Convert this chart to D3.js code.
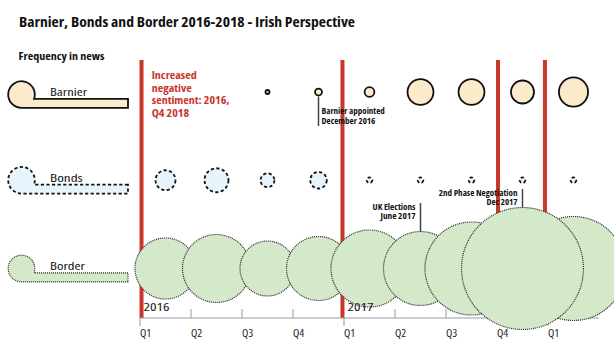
<!DOCTYPE html>
<html>
<head>
<meta charset="utf-8">
<script src="https://cdn.jsdelivr.net/npm/d3@7"></script>
<style>
  html, body { margin: 0; padding: 0; background: #fff; }
  svg { display: block; font-family: "Open Sans", "Lato", sans-serif; font-stretch: semi-condensed; }
</style>
</head>
<body>
<svg id="chart" width="614" height="345"></svg>
<script>
// ---- Data ----
const quarters = ["2016 Q1","2016 Q2","2016 Q3","2016 Q4","2017 Q1","2017 Q2","2017 Q3","2017 Q4","2018 Q1"];
const quarterLabels = ["Q1","Q2","Q3","Q4","Q1","Q2","Q3","Q4","Q1"];
const yearLabels = [{q: "2016 Q1", label: "2016"}, {q: "2017 Q1", label: "2017"}];
const barnier = [0, 0, 1, 3, 6, 42, 42, 33, 53];
const bonds   = [25, 36, 12, 17, 2, 2, 2, 2, 2];
const border  = [233, 289, 189, 256, 371, 342, 541, 930, 676];
const seriesNames = ["Barnier", "Bonds", "Border"];
const redLinePositions = [0.03, 3.97, 7.02, 7.94]; // in quarter units
const sentimentLines = ["Increased", "negative", "sentiment: 2016,", "Q4 2018"];
const annotations = [
  {series: "Barnier", q: "2016 Q4", lines: ["Barnier appointed", "December 2016"]},
  {series: "Border",  q: "2017 Q2", lines: ["UK Elections", "June 2017"]},
  {series: "Border",  q: "2017 Q4", lines: ["2nd Phase Negotiation", "Dec 2017"]}
];

// ---- Setup ----
const svg = d3.select("#chart");
const RED = "#c8362c";
const styles = {
  Barnier: {fill: "#fcebcb", stroke: "#111", width: 1.8, dash: null},
  Bonds:   {fill: "#e6f4fb", stroke: "#111", width: 1.8, dash: "3.2,2.4"},
  Border:  {fill: "#d4e8ca", stroke: "#333", width: 1.2, dash: "1.1,0.9"}
};
// fit a text to a target width measured on the reference
function fit(sel, w) {
  sel.each(function() {
    const natural = this.getComputedTextLength();
    if (Math.abs(natural - w) > 1) {
      d3.select(this).attr("textLength", w).attr("lengthAdjust", "spacingAndGlyphs");
    }
  });
}

const x = d3.scaleBand().domain(quarters).range([140, 599]).paddingInner(0).paddingOuter(0);
const xLin = d3.scaleLinear().domain([0, quarters.length]).range([140, 599]);
const y = d3.scalePoint().domain(seriesNames).range([92, 268.5]);
const r = d3.scaleSqrt().domain([0, 100]).range([0, 20]);

// Title
svg.append("text").attr("x", 19).attr("y", 27)
  .attr("font-size", 13.6).attr("font-weight", 700).attr("fill", "#111")
  .text("Barnier, Bonds and Border 2016-2018 - Irish Perspective")
  .call(fit, 336);
svg.append("text").attr("x", 18.5).attr("y", 60)
  .attr("font-size", 10.2).attr("font-weight", 700).attr("fill", "#111")
  .text("Frequency in news")
  .call(fit, 86);

// Red lines (behind circles)
svg.append("g").selectAll("line").data(redLinePositions).join("line")
  .attr("x1", d => xLin(d)).attr("x2", d => xLin(d))
  .attr("y1", 60).attr("y2", 318)
  .attr("stroke", RED).attr("stroke-width", 4);

// Red sentiment text (widened uniformly so the longest line matches the reference)
const sentTexts = svg.append("g").selectAll("text").data(sentimentLines).join("text")
  .attr("x", 151.7).attr("y", (d, i) => 79 + i * 12.7)
  .attr("font-size", 10.8).attr("font-weight", 700).attr("fill", RED)
  .text(d => d);
const sentNodes = sentTexts.nodes();
const sentFactor = 77.7 / sentNodes[2].getComputedTextLength();
sentTexts.each(function() { fit(d3.select(this), this.getComputedTextLength() * sentFactor); });

// Axis
const axisY = 318;
svg.append("line").attr("x1", x.range()[0]).attr("x2", x.range()[1])
  .attr("y1", axisY).attr("y2", axisY).attr("stroke", "#999").attr("stroke-width", 1);
const ticks = svg.append("g").selectAll("g").data(quarters).join("g")
  .attr("transform", d => `translate(${x(d)},0)`);
ticks.append("line")
  .attr("y1", (d, i) => quarterLabels[i] === "Q1" ? axisY : axisY - 9)
  .attr("y2", (d, i) => quarterLabels[i] === "Q1" ? axisY + 8 : axisY)
  .attr("stroke", "#999").attr("stroke-width", 1);
ticks.append("text").attr("x", 0).attr("y", 336.5)
  .attr("font-size", 11.6).attr("fill", "#222")
  .text((d, i) => quarterLabels[i]);

// Legend
const legendCx = 21.5, legendR = 13.3, barRight = 128, barH = 9;
const legendWidths = {Barnier: 37, Bonds: 32.7, Border: 35};
seriesNames.forEach(name => {
  const cy = y(name) + (name === "Barnier" ? 2.5 : 0);
  const bottom = cy + legendR;
  const top = bottom - barH;
  const dy = top - cy;
  const dx = Math.sqrt(legendR * legendR - dy * dy);
  const p = `M${barRight},${top} L${legendCx + dx},${top} A${legendR},${legendR} 0 1 0 ${legendCx},${bottom} L${barRight},${bottom} Z`;
  const st = styles[name];
  svg.append("path").attr("d", p)
    .attr("fill", st.fill).attr("stroke", st.stroke).attr("stroke-width", st.width)
    .attr("stroke-dasharray", st.dash);
  svg.append("text").attr("x", 50).attr("y", top - 3)
    .attr("font-size", 11.6).attr("fill", "#111")
    .text(name)
    .call(fit, legendWidths[name]);
});

// Bubbles
const seriesData = {Barnier: barnier, Bonds: bonds, Border: border};
seriesNames.forEach(name => {
  const st = styles[name];
  const g = svg.append("g");
  const circles = g.selectAll("circle")
    .data(quarters.map((q, i) => ({q, v: seriesData[name][i]})).filter(d => d.v > 0))
    .join("circle")
    .attr("cx", d => x(d.q) + x.bandwidth() / 2)
    .attr("cy", y(name))
    .attr("r", d => r(d.v))
    .attr("fill", st.fill).attr("stroke", st.stroke).attr("stroke-width", st.width)
    .attr("stroke-dasharray", st.dash);
  if (name === "Border") {
    circles.filter(d => d.v === d3.max(border)).raise();
  }
});

// Year labels
svg.append("g").selectAll("text").data(yearLabels).join("text")
  .attr("x", d => x(d.q) + 3.5).attr("y", 311)
  .attr("font-size", 11.6).attr("fill", "#222")
  .text(d => d.label)
  .call(fit, 26);

// Annotations
const annWidths = {
  "Barnier appointed": 64, "December 2016": 54,
  "UK Elections": 43, "June 2017": 35,
  "2nd Phase Negotiation": 78.7, "Dec 2017": 31
};
annotations.forEach(a => {
  const idx = quarters.indexOf(a.q);
  const v = seriesData[a.series][idx];
  const cx = x(a.q) + x.bandwidth() / 2;
  const cy = y(a.series);
  const rad = r(v);
  const g = svg.append("g").attr("font-weight", 700).attr("fill", "#111");
  if (a.series === "Barnier") {
    g.attr("font-size", 9);
    g.append("line").attr("x1", cx).attr("x2", cx).attr("y1", cy + rad + 1).attr("y2", cy + 34)
      .attr("stroke", "#444").attr("stroke-width", 1.5);
    a.lines.forEach((t, i) => g.append("text").attr("x", cx + 3).attr("y", cy + 22.3 + i * 9.7)
      .text(t).call(fit, annWidths[t]));
  } else {
    g.attr("font-size", 8.2);
    const topY = a.q === "2017 Q2" ? cy - 65.5 : cy - 79.5;
    g.append("line").attr("x1", cx).attr("x2", cx).attr("y1", topY).attr("y2", cy - rad)
      .attr("stroke", "#444").attr("stroke-width", 1.5);
    a.lines.forEach((t, i) => g.append("text").attr("x", cx - 5).attr("y", topY + 7 + i * 9.2)
      .attr("text-anchor", "end").text(t).call(fit, annWidths[t]));
  }
});
</script>
</body>
</html>
